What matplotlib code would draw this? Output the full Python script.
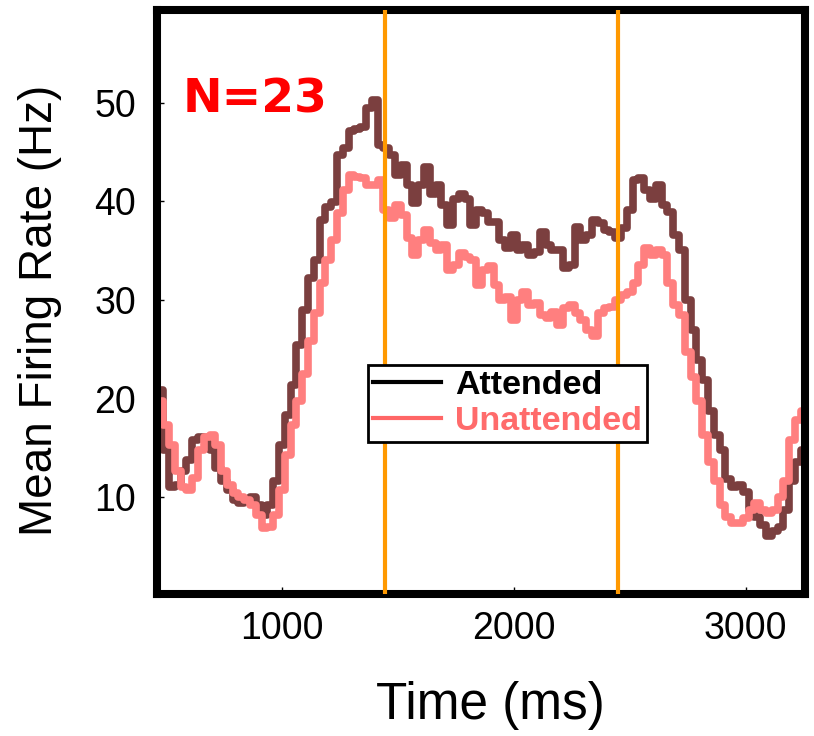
import numpy as np
import matplotlib
matplotlib.use("Agg")
import matplotlib.pyplot as plt
from matplotlib.lines import Line2D

plt.rcParams['font.family'] = ['Liberation Sans', 'DejaVu Sans']

# time bins (ms) and mean rates (Hz)
time_ms = np.arange(450, 3251, 25)
attended = [21.5, 20.9,
            14.8, 11.0, 11.2, 12.7,
            13.8, 15.8, 16.1, 15.8,
            14.8, 13.0, 11.7, 10.7,
            9.7, 9.4, 9.7, 10.0,
            9.2, 8.2, 9.2, 11.7,
            15.3, 18.3, 21.4, 25.4,
            29.0, 32.2, 34.1, 38.1,
            39.4, 39.9, 44.7, 45.4,
            47.1, 47.3, 47.5, 49.5,
            50.3, 45.7, 45.4, 44.7,
            42.7, 43.7, 41.7, 39.8,
            41.7, 43.5, 40.7, 41.7,
            39.6, 37.6, 40.2, 40.7,
            40.2, 37.6, 39.1, 38.8,
            37.9, 37.9, 36.1, 35.3,
            36.6, 35.1, 35.6, 34.6,
            34.9, 36.9, 35.6, 35.1,
            35.1, 33.2, 33.6, 37.4,
            36.1, 36.6, 38.1, 37.8,
            37.1, 36.9, 36.3, 37.3,
            39.1, 42.2, 42.4, 41.2,
            40.2, 41.7, 39.6, 38.9,
            36.6, 35.1, 30.0, 27.0,
            23.9, 21.9, 18.8, 16.3,
            14.8, 11.9, 11.0, 11.2,
            10.5, 8.7, 8.0, 7.2,
            6.1, 6.6, 7.0, 8.7,
            11.7, 13.6, 14.8]
unattended = [20.4, 19.8,
              17.3, 15.3, 12.7, 11.0,
              10.7, 12.0, 14.8, 16.1,
              16.3, 15.3, 12.7, 11.2,
              10.4, 10.0, 9.7, 9.2,
              8.2, 6.9, 7.0, 8.2,
              10.7, 14.3, 17.3, 19.8,
              22.5, 25.8, 28.7, 31.7,
              34.1, 36.1, 38.8, 41.2,
              42.7, 42.5, 42.4, 41.7,
              41.7, 42.2, 39.1, 38.3,
              39.6, 38.6, 36.3, 34.6,
              36.1, 37.1, 35.8, 35.1,
              35.6, 33.0, 33.6, 34.8,
              34.4, 34.1, 31.5, 33.0,
              33.4, 31.5, 30.0, 30.3,
              28.0, 30.0, 30.8, 29.5,
              29.7, 28.5, 28.2, 28.8,
              27.5, 29.2, 29.5, 28.7,
              28.0, 27.0, 26.4, 28.7,
              29.2, 29.3, 30.0, 30.5,
              30.8, 31.7, 33.6, 35.3,
              34.6, 35.1, 34.6, 31.7,
              29.5, 28.5, 24.7, 22.2,
              19.8, 16.3, 13.6, 11.7,
              9.2, 8.0, 7.4, 7.4,
              7.9, 8.7, 9.4, 8.7,
              8.4, 8.7, 10.0, 11.7,
              15.8, 17.8, 18.8]
cue_times = [1445, 2450]
n_cells = 23
x_ticks = [1000, 2000, 3000]
y_ticks = [10, 20, 30, 40, 50]

fig = plt.figure(figsize=(8.14, 7.36), dpi=100)
ax = fig.add_axes([157 / 814, 142 / 736, 648 / 814, 584 / 736])

ax.plot(time_ms, attended, color='#7B3F3F', lw=5.5, drawstyle='steps-mid', zorder=2)
ax.plot(time_ms, unattended, color='#FF7F7F', lw=5.5, drawstyle='steps-mid', zorder=2)
for t in cue_times:
    ax.axvline(t, color='#FF9900', lw=3, zorder=3)

ax.set_xlim(461, 3256)
ax.set_ylim(0.2, 59.4)
ax.set_xticks(x_ticks)
ax.set_yticks(y_ticks)
ax.tick_params(direction='in', length=5, width=1, labelsize=27)
ax.tick_params(axis='x', pad=12)
ax.tick_params(axis='y', pad=15)
for s in ax.spines.values():
    s.set_linewidth(5.8)

handles = [Line2D([], [], color='black', lw=3), Line2D([], [], color='#FF6666', lw=3)]
leg = ax.legend(handles, ['Attended', 'Unattended'], loc='upper left',
                bbox_to_anchor=(0.3256, 0.392), prop={'weight': 'bold', 'size': 24.5},
                frameon=True, fancybox=False, edgecolor='black', framealpha=1,
                borderpad=0.15, labelspacing=0.15, handlelength=2, handletextpad=0.4,
                borderaxespad=0)
leg.get_frame().set_linewidth(2)
leg.get_texts()[1].set_color('#FF6B6B')
leg.set_zorder(5)

ax.text(0.040, 0.824, f'N={n_cells}', transform=ax.transAxes, color='red',
        fontsize=34, fontweight='bold', family='DejaVu Sans', va='baseline')

fig.text(490 / 814, 1 - 705 / 736, 'Time (ms)', ha='center', va='center', fontsize=37)
fig.text(40 / 814, 1 - 310 / 736, 'Mean Firing Rate (Hz)', rotation=90,
         ha='center', va='center', fontsize=33)

fig.savefig('out.png', dpi=100)
